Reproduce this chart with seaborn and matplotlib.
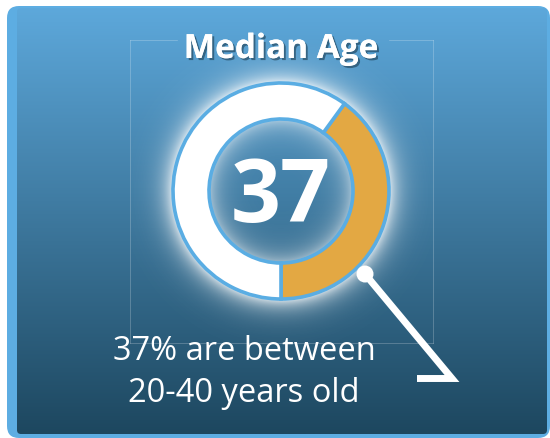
import numpy as np
import matplotlib.pyplot as plt
import matplotlib.patheffects as pe
from matplotlib.patches import FancyBboxPatch, Circle
import seaborn as sns

# ---- data ----
title = "Median Age"
median_age = "37"
segment_labels = ["20-40 years", "other"]
segment_share = [40, 60]          # orange arc
segment_colors = ["#e3a843", "white"]
caption_lines = ["37% are between", "20-40 years old"]

sns.set_theme(style="white")
plt.rcParams["font.family"] = ["Open Sans", "DejaVu Sans"]

W, H = 550, 438


def Y(y):
    # picture coords (y down) -> axes coords (y up)
    return H - y


fig = plt.figure(figsize=(5.5, 4.38), dpi=100)
fig.patch.set_facecolor("white")
ax = fig.add_axes([0, 0, 1, 1])

# panel: light blue frame + dark gradient card
frame = FancyBboxPatch((7, Y(438)), 543, 432, boxstyle="round,pad=0,rounding_size=12",
                       fc="#5dade2", ec="none", zorder=0)
ax.add_patch(frame)
card = FancyBboxPatch((17, Y(434)), 530, 426, boxstyle="round,pad=0,rounding_size=4",
                      fc="none", ec="none", zorder=1)
ax.add_patch(card)
top_c = np.array([0x5d, 0xa8, 0xdb]) / 255
bot_c = np.array([0x1d, 0x47, 0x5f]) / 255
t = np.linspace(0, 1, 300)[:, None, None]
grad = top_c * (1 - t) + bot_c * t
im = ax.imshow(grad, extent=(17, 547, Y(434), Y(8)), aspect="auto", zorder=1)
im.set_clip_path(card)

# faint guide box
box_kw = dict(color="white", alpha=0.22, lw=0.7, zorder=2)
ax.plot([130, 130], [Y(40), Y(343)], **box_kw)
ax.plot([433, 433], [Y(40), Y(343)], **box_kw)
ax.plot([130, 433], [Y(343), Y(343)], **box_kw)
ax.plot([130, 177], [Y(40), Y(40)], **box_kw)
ax.plot([389, 433], [Y(40), Y(40)], **box_kw)

# soft white glow around the ring
cx, cy = 281, 191
xs = np.arange(130, 433) + 0.5
ys = np.arange(40, 343) + 0.5
XX, YY = np.meshgrid(xs, ys)
d = np.hypot(XX - cx, YY - cy)
alpha = np.zeros_like(d)
outer = d >= 108
alpha[outer] = 0.85 * np.exp(-(d[outer] - 108) / 11.0)
inner = d <= 72
alpha[inner] = 0.55 * np.exp(-(72 - d[inner]) / 12.0)
glow = np.zeros(d.shape + (4,))
glow[..., :3] = 1.0
glow[..., 3] = alpha
ax.imshow(glow, extent=(130, 433, Y(343), Y(40)), origin="upper",
          interpolation="bilinear", aspect="auto", zorder=2)

# donut
ax.pie(segment_share, colors=segment_colors, startangle=-90, counterclock=True,
       center=(cx, Y(cy)), radius=108,
       wedgeprops=dict(width=36, edgecolor="#5aade3", linewidth=2.6, zorder=3))

# pointer
ax.plot([365, 452, 417], [Y(274), Y(378.5), Y(378.5)], color="white", lw=5,
        solid_joinstyle="miter", solid_capstyle="butt", zorder=4)
ax.add_patch(Circle((365, Y(274)), 8.5, fc="white", ec="none", zorder=5))

# texts
ax.text(281, Y(58), title, ha="center", va="baseline", fontsize=24,
        fontweight="bold", color="white", zorder=6,
        path_effects=[pe.withSimplePatchShadow(offset=(1.5, -1.5),
                                               shadow_rgbFace="#173446", alpha=0.55),
                      pe.Normal()])
ax.text(cx, Y(222), median_age, ha="center", va="baseline", fontsize=63,
        fontweight="bold", color="white", zorder=6)
ax.text(244, Y(360), caption_lines[0], ha="center", va="baseline", fontsize=23.5,
        color="white", zorder=6)
ax.text(244, Y(402), caption_lines[1], ha="center", va="baseline", fontsize=23.5,
        color="white", zorder=6)

ax.set_xlim(0, W)
ax.set_ylim(0, H)
ax.set_aspect("auto")
ax.axis("off")

fig.savefig("out.png", dpi=100)
